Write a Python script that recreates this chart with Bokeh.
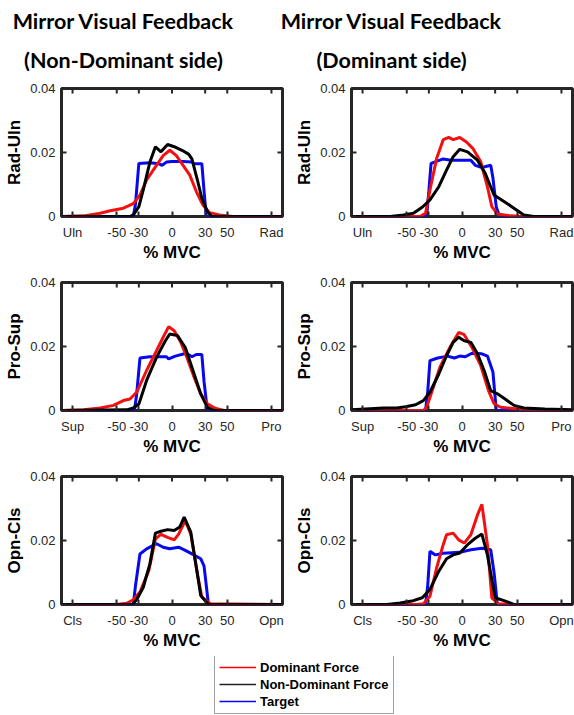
from bokeh.plotting import figure
from bokeh.models import Range1d, FixedTicker, Label, Legend, LegendItem
from bokeh.layouts import column, row
from bokeh.embed import file_html
from bokeh.resources import INLINE

# ---------------- data ----------------
x_ticks = [-90, -50, -30, 0, 30, 50, 90]
y_ticks = [0, 0.02, 0.04]
row_labels = ["Rad-Uln", "Pro-Sup", "Opn-Cls"]
end_labels = [("Uln", "Rad"), ("Sup", "Pro"), ("Cls", "Opn")]
col_title_1 = ["Mirror Visual Feedback", "Mirror Visual Feedback"]
col_title_2 = ["(Non-Dominant side)", "(Dominant side)"]
series_names = ["Dominant Force", "Non-Dominant Force", "Target"]
x_label = "% MVC"

# Rad-Uln, Non-Dominant side
ru_nd_dom_x = [-100, -80, -65, -56, -44, -35, -29, -23, -17, -8, -2, 4, 10, 16, 22, 28, 34, 43, 55, 100]
ru_nd_dom_y = [0, 0.0002, 0.001, 0.0018, 0.0026, 0.004, 0.0067, 0.0114, 0.0145, 0.019, 0.0207, 0.019, 0.016, 0.013, 0.0078, 0.0036, 0.0012, 0.0005, 0, 0]
ru_nd_non_x = [-100, -38, -35, -30, -26, -20, -15, -10, -4, 2, 9, 15, 18, 23, 27, 32, 36, 100]
ru_nd_non_y = [0, 0, 0.0005, 0.0031, 0.0083, 0.017, 0.0218, 0.0202, 0.0225, 0.0218, 0.0207, 0.0195, 0.018, 0.0114, 0.0057, 0.0016, 0, 0]
ru_nd_tgt_x = [-100, -35, -33, -30, -20, -12, -9, -5, 0, 10, 18, 20, 27, 29, 31, 100]
ru_nd_tgt_y = [0, 0, 0.004, 0.0166, 0.0168, 0.0165, 0.016, 0.017, 0.0172, 0.0172, 0.017, 0.0165, 0.0165, 0.008, 0, 0]

# Rad-Uln, Dominant side
ru_d_dom_x = [-100, -38, -33, -29, -23, -17, -12, -8, -2, 4, 10, 17, 23, 27, 32, 44, 56, 100]
ru_d_dom_y = [0, 0, 0.001, 0.0083, 0.0181, 0.024, 0.0247, 0.024, 0.0247, 0.0233, 0.0212, 0.0171, 0.0093, 0.0031, 0.0008, 0.0002, 0, 0]
ru_d_non_x = [-100, -65, -53, -44, -36, -29, -21, -14, -8, -2, 5, 14, 21, 29, 38, 47, 56, 65, 100]
ru_d_non_y = [0, 0, 0.0005, 0.001, 0.0029, 0.0052, 0.0093, 0.0145, 0.0187, 0.021, 0.0202, 0.0176, 0.0135, 0.0067, 0.0047, 0.0026, 0.0005, 0, 0]
ru_d_tgt_x = [-100, -32, -30, -28, -17, -10, 8, 12, 18, 26, 28, 31, 34, 100]
ru_d_tgt_y = [0, 0, 0.008, 0.0166, 0.018, 0.0176, 0.0176, 0.016, 0.0153, 0.016, 0.012, 0.003, 0, 0]

# Pro-Sup, Non-Dominant side
ps_nd_dom_x = [-100, -80, -65, -53, -44, -38, -32, -23, -14, -8, -3, 2, 8, 14, 20, 26, 32, 39, 47, 100]
ps_nd_dom_y = [0, 0.0002, 0.0008, 0.0016, 0.0031, 0.0036, 0.0057, 0.0125, 0.0187, 0.0229, 0.0262, 0.0249, 0.0213, 0.0161, 0.0104, 0.0052, 0.0021, 0.0007, 0, 0]
ps_nd_non_x = [-100, -41, -35, -30, -23, -14, -6, -2, 5, 12, 18, 26, 32, 38, 100]
ps_nd_non_y = [0, 0.0002, 0.0008, 0.002, 0.0094, 0.0166, 0.0218, 0.0239, 0.0234, 0.0197, 0.0135, 0.0052, 0.001, 0, 0]
ps_nd_tgt_x = [-100, -34, -32, -29, -20, -5, -3, 3, 13, 18, 22, 27, 29, 32, 100]
ps_nd_tgt_y = [0, 0, 0.005, 0.0164, 0.0168, 0.0168, 0.0161, 0.017, 0.0179, 0.0168, 0.0175, 0.0175, 0.009, 0, 0]

# Pro-Sup, Dominant side
ps_d_dom_x = [-100, -70, -35, -32, -27, -20, -10, -3, 2, 9, 17, 24, 29, 35, 50, 75, 100]
ps_d_dom_y = [0, 0, 0, 0.001, 0.0062, 0.0135, 0.0203, 0.0244, 0.0237, 0.0197, 0.014, 0.0062, 0.0021, 0.001, 0.0005, 0, 0]
ps_d_non_x = [-100, -71, -59, -51, -42, -35, -29, -21, -14, -8, -3, 2, 8, 14, 20, 26, 32, 39, 47, 56, 75, 100]
ps_d_non_y = [0.0002, 0.0008, 0.0008, 0.0012, 0.0018, 0.0031, 0.0057, 0.0114, 0.0171, 0.0213, 0.0229, 0.0218, 0.0213, 0.0177, 0.0125, 0.0062, 0.0052, 0.0036, 0.0016, 0.0008, 0.0005, 0.0002]
ps_d_tgt_x = [-100, -33, -31, -29, -22, -13, -7, -2, 3, 9, 18, 23, 28, 31, 100]
ps_d_tgt_y = [0, 0, 0.006, 0.0156, 0.0164, 0.017, 0.0164, 0.017, 0.0168, 0.0179, 0.0177, 0.017, 0.012, 0, 0]

# Opn-Cls, Non-Dominant side
oc_nd_dom_x = [-100, -50, -41, -35, -29, -21, -15, -10, -4, 2, 6, 12, 17, 23, 27, 35, 100]
oc_nd_dom_y = [0, 0, 0.0004, 0.0015, 0.0039, 0.0106, 0.0205, 0.0219, 0.021, 0.0202, 0.022, 0.0262, 0.022, 0.0096, 0.0023, 0.0002, 0]
oc_nd_non_x = [-100, -36, -32, -26, -20, -15, -10, -4, 2, 7, 11, 17, 21, 26, 33, 100]
oc_nd_non_y = [0, 0, 0.0015, 0.0054, 0.0127, 0.0223, 0.0229, 0.0234, 0.0231, 0.0242, 0.0273, 0.0226, 0.0138, 0.0028, 0, 0]
oc_nd_tgt_x = [-100, -35, -33, -29, -23, -14, -8, -2, 6, 12, 18, 26, 29, 33, 100]
oc_nd_tgt_y = [0, 0, 0.006, 0.0158, 0.0174, 0.019, 0.0179, 0.0174, 0.0179, 0.0169, 0.0158, 0.0143, 0.012, 0, 0]

# Opn-Cls, Dominant side
oc_d_dom_x = [-100, -41, -35, -29, -23, -17, -14, -8, -3, 2, 8, 14, 18, 23, 27, 33, 47, 100]
oc_d_dom_y = [0, 0, 0.0002, 0.0026, 0.0114, 0.0187, 0.0218, 0.0223, 0.0202, 0.0192, 0.0218, 0.028, 0.0313, 0.0187, 0.0021, 0.0002, 0, 0]
oc_d_non_x = [-100, -68, -56, -44, -36, -29, -21, -14, -8, -2, 5, 12, 18, 23, 30, 38, 47, 100]
oc_d_non_y = [0, 0, 0.0005, 0.0012, 0.0021, 0.0047, 0.0104, 0.0143, 0.0155, 0.0161, 0.0187, 0.0207, 0.022, 0.0155, 0.0021, 0.0012, 0, 0]
oc_d_tgt_x = [-100, -33, -31, -29, -24, -17, -2, 8, 18, 26, 29, 32, 100]
oc_d_tgt_y = [0, 0, 0.006, 0.0166, 0.0155, 0.016, 0.0163, 0.0171, 0.0176, 0.0171, 0.01, 0, 0]

panels = [
    [((ru_nd_dom_x, ru_nd_dom_y), (ru_nd_non_x, ru_nd_non_y), (ru_nd_tgt_x, ru_nd_tgt_y)),
     ((ru_d_dom_x, ru_d_dom_y), (ru_d_non_x, ru_d_non_y), (ru_d_tgt_x, ru_d_tgt_y))],
    [((ps_nd_dom_x, ps_nd_dom_y), (ps_nd_non_x, ps_nd_non_y), (ps_nd_tgt_x, ps_nd_tgt_y)),
     ((ps_d_dom_x, ps_d_dom_y), (ps_d_non_x, ps_d_non_y), (ps_d_tgt_x, ps_d_tgt_y))],
    [((oc_nd_dom_x, oc_nd_dom_y), (oc_nd_non_x, oc_nd_non_y), (oc_nd_tgt_x, oc_nd_tgt_y)),
     ((oc_d_dom_x, oc_d_dom_y), (oc_d_non_x, oc_d_non_y), (oc_d_tgt_x, oc_d_tgt_y))],
]

# ---------------- style ----------------
RED = "#f21010"
BLACK = "#000000"
BLUE = "#0808ee"
AX = "#262626"
FONT = "Liberation Sans"
FW = 221
FH = 128
W = 574
X0, X1 = -100, 100
Y0, Y1 = 0, 0.04
TICK_PX = 5

# ---------------- header ----------------
HH = 80
header = figure(width=W, height=HH, output_backend="svg", toolbar_location=None,
                x_range=Range1d(0, W), y_range=Range1d(0, HH), min_border=0)
header.axis.visible = False
header.grid.visible = False
header.outline_line_color = None
title_cx = [123, 391]
for i in range(2):
    for txt, yy in ((col_title_1[i], 60), (col_title_2[i], 21)):
        header.add_layout(Label(x=title_cx[i], y=yy, x_units="screen", y_units="screen",
                                text=txt, text_font="Lato", text_font_style="bold",
                                text_font_size="21.5px", text_align="center",
                                text_baseline="middle", text_color="#000000"))


def make_panel(r, c):
    last = (r == 2)
    p = figure(frame_width=FW, frame_height=FH, output_backend="svg", toolbar_location=None,
               x_range=Range1d(X0, X1), y_range=Range1d(Y0, Y1),
               min_border_top=8, min_border_bottom=52 if last else 58,
               min_border_left=61 if c == 0 else 60, min_border_right=9 if c == 0 else 2,
               background_fill_color="white", border_fill_color="white")
    p.grid.visible = False
    p.outline_line_color = AX
    p.outline_line_width = 3
    lo, hi = end_labels[r]
    p.xaxis.ticker = FixedTicker(ticks=x_ticks)
    p.xaxis.major_label_overrides = {-90: lo, -50: "-50", -30: "-30", 90: hi}
    p.yaxis.ticker = FixedTicker(ticks=y_ticks)
    p.yaxis.major_label_overrides = {0: "0", 0.02: "0.02", 0.04: "0.04"}
    p.xaxis.axis_label = x_label
    p.yaxis.axis_label = row_labels[r]
    for ax in (p.xaxis[0], p.yaxis[0]):
        ax.axis_line_color = None
        ax.major_tick_in = TICK_PX
        ax.major_tick_out = 0
        ax.major_tick_line_color = AX
        ax.major_tick_line_width = 2
        ax.minor_tick_line_color = None
        ax.major_label_text_font = FONT
        ax.major_label_text_font_size = "13px"
        ax.major_label_text_color = AX
        ax.axis_label_text_font = FONT
        ax.axis_label_text_font_style = "bold"
        ax.axis_label_text_color = "#000000"
    p.xaxis.major_label_standoff = 8
    p.xaxis.axis_label_standoff = 0
    p.xaxis.axis_label_text_font_size = "17px"
    p.yaxis.major_label_standoff = 6
    p.yaxis.axis_label_standoff = 3
    p.yaxis.axis_label_text_font_size = "17px"
    # mirrored inward tick marks on the top and right edges of the box
    dy = (Y1 - Y0) * TICK_PX / FH
    dx = (X1 - X0) * TICK_PX / FW
    p.segment(x0=x_ticks, y0=[Y1] * len(x_ticks), x1=x_ticks, y1=[Y1 - dy] * len(x_ticks),
              line_color=AX, line_width=2)
    p.segment(x0=[X1] * len(y_ticks), y0=y_ticks, x1=[X1 - dx] * len(y_ticks), y1=y_ticks,
              line_color=AX, line_width=2)
    (dxs, dys), (nxs, nys), (txs, tys) = panels[r][c]
    p.line(txs, tys, line_color=BLUE, line_width=3)
    p.line(dxs, dys, line_color=RED, line_width=3)
    p.line(nxs, nys, line_color=BLACK, line_width=3)
    return p


rows = [row(make_panel(r, 0), make_panel(r, 1)) for r in range(3)]

# ---------------- legend ----------------
# the lines use real data but the legend figure's range keeps them out of view
leg = figure(width=W, height=58, output_backend="svg", toolbar_location=None,
             x_range=Range1d(X0, X1), y_range=Range1d(1, 2), min_border=0)
leg.axis.visible = False
leg.grid.visible = False
leg.outline_line_color = None
(ldx, ldy), (lnx, lny), (ltx, lty) = panels[0][0]
r1 = leg.line(ldx, ldy, line_color="#ff0000", line_width=1.5)
r2 = leg.line(lnx, lny, line_color="#222222", line_width=1.5)
r3 = leg.line(ltx, lty, line_color="#0000ff", line_width=1.5)
legend = Legend(items=[LegendItem(label=series_names[0], renderers=[r1]),
                       LegendItem(label=series_names[1], renderers=[r2]),
                       LegendItem(label=series_names[2], renderers=[r3])],
                location=(214, 0), orientation="vertical",
                label_text_font=FONT, label_text_font_style="bold", label_text_font_size="13px",
                label_text_color="#000000", glyph_width=37, glyph_height=16, label_height=16,
                label_standoff=4, spacing=1, padding=4, margin=0,
                border_line_color="#444444", border_line_width=1,
                background_fill_color="white", background_fill_alpha=1)
leg.add_layout(legend, "center")

layout = column(header, *rows, leg)
open("out.html", "w").write(file_html(layout, INLINE))
